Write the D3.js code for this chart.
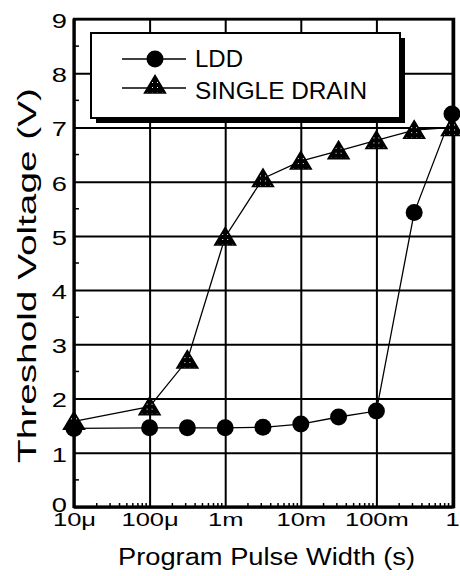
<!DOCTYPE html>
<html><head><meta charset="utf-8">
<script src="https://cdn.jsdelivr.net/npm/d3@7"></script>
<style>
html,body{margin:0;padding:0;background:#fff;}
svg{display:block;font-family:Arial,"Liberation Sans",Helvetica,sans-serif;}
</style></head>
<body>
<svg id="chart" width="460" height="576"></svg>
<script>
// ---- data ----
const pulseWidths = [1e-5, 1e-4, 3.16e-4, 1e-3, 3.16e-3, 1e-2, 3.16e-2, 1e-1, 3.16e-1, 1];
const lddVt = [1.45, 1.46, 1.46, 1.46, 1.47, 1.53, 1.66, 1.77, 5.43, 7.25];
const singleDrainVt = [1.58, 1.85, 2.71, 4.98, 6.06, 6.38, 6.57, 6.76, 6.95, 7.0];
const xTickValues = [1e-5, 1e-4, 1e-3, 1e-2, 1e-1, 1];
const xTickLabels = ["10μ", "100μ", "1m", "10m", "100m", "1"];
const yTickValues = [0, 1, 2, 3, 4, 5, 6, 7, 8, 9];
const seriesNames = ["LDD", "SINGLE DRAIN"];
const xTitle = "Program Pulse Width (s)";
const yTitle = "Threshold Voltage (V)";

const svg = d3.select("#chart");
const L = 74, R = 452, T = 19, B = 507;
const x = d3.scaleLog().domain([1e-5, 1]).range([L, R]);
const y = d3.scaleLinear().domain([0, 9]).range([B, T]);

// pattern for speckled triangles
const defs = svg.append("defs");
const pat = defs.append("pattern").attr("id", "speck").attr("patternUnits", "userSpaceOnUse")
  .attr("width", 5).attr("height", 5);
pat.append("rect").attr("width", 5).attr("height", 5).attr("fill", "#000");
pat.append("rect").attr("x", 2).attr("y", 2).attr("width", 1).attr("height", 1).attr("fill", "#fff");

// grid via axes
const yAxis = d3.axisLeft(y).tickValues(yTickValues).tickSize(-(R - L)).tickPadding(7).tickFormat(d3.format("d"));
const gy = svg.append("g").attr("transform", `translate(${L},0)`).call(yAxis);
gy.select(".domain").remove();
gy.selectAll(".tick line").attr("stroke", "#000").attr("stroke-width", 2);
gy.selectAll(".tick text")
  .attr("font-size", 21).attr("fill", "#000").attr("x", 0)
  .attr("dy", d => d === 0 ? "0.22em" : "0.40em")
  .attr("transform", "translate(-7,0) scale(1.3,1)");

const xAxis = d3.axisBottom(x).tickValues(xTickValues).tickSize(-(B - T))
  .tickFormat((d, i) => xTickLabels[i]);
const gx = svg.append("g").attr("transform", `translate(0,${B})`).call(xAxis);
gx.select(".domain").remove();
gx.selectAll(".tick line").attr("stroke", "#000").attr("stroke-width", 2);
gx.selectAll(".tick text")
  .attr("font-size", 18).attr("fill", "#000").attr("y", 0).attr("dy", 0)
  .attr("transform", "translate(0,19) scale(1.42,1)");

// minor ticks
const yMinor = d3.range(0.5, 9, 1);
svg.append("g").selectAll("line").data(yMinor).join("line")
  .attr("x1", L).attr("x2", L + 5).attr("y1", d => y(d)).attr("y2", d => y(d))
  .attr("stroke", "#000").attr("stroke-width", 1.5);
const xMinor = [];
for (let e = -5; e < 0; e++) for (let m = 2; m <= 9; m++) xMinor.push(m * Math.pow(10, e));
svg.append("g").selectAll("line").data(xMinor).join("line")
  .attr("x1", d => x(d)).attr("x2", d => x(d)).attr("y1", B).attr("y2", B - 4)
  .attr("stroke", "#000").attr("stroke-width", 1.5);

// frame
svg.append("rect").attr("x", L).attr("y", T).attr("width", R - L + 2).attr("height", B - T)
  .attr("fill", "none").attr("stroke", "#000").attr("stroke-width", 2.5);
svg.append("line").attr("x1", L).attr("x2", L).attr("y1", T).attr("y2", B + 1)
  .attr("stroke", "#000").attr("stroke-width", 3);
svg.append("line").attr("x1", L).attr("x2", R + 2).attr("y1", B).attr("y2", B)
  .attr("stroke", "#000").attr("stroke-width", 3);

// series
const ldd = pulseWidths.map((p, i) => [p, lddVt[i]]);
const sd = pulseWidths.map((p, i) => [p, singleDrainVt[i]]);
const line = d3.line().x(d => x(d[0])).y(d => y(d[1]));
svg.append("path").attr("d", line(sd)).attr("fill", "none").attr("stroke", "#000").attr("stroke-width", 1.3);
svg.append("path").attr("d", line(ldd)).attr("fill", "none").attr("stroke", "#000").attr("stroke-width", 1.3);

const triPath = "M0,-9.5L10.5,8L-10.5,8Z";
svg.append("g").selectAll("path").data(sd).join("path")
  .attr("d", triPath).attr("transform", d => `translate(${x(d[0])},${y(d[1])})`)
  .attr("fill", "url(#speck)").attr("stroke", "#000").attr("stroke-width", 1.5);
svg.append("g").selectAll("circle").data(ldd).join("circle")
  .attr("cx", d => x(d[0])).attr("cy", d => y(d[1])).attr("r", 8.5).attr("fill", "#000");

// legend
const lg = svg.append("g");
lg.append("rect").attr("x", 96).attr("y", 38).attr("width", 309).attr("height", 85).attr("fill", "#000");
lg.append("rect").attr("x", 91).attr("y", 33).attr("width", 309).attr("height", 85)
  .attr("fill", "#fff").attr("stroke", "#000").attr("stroke-width", 2);
const rows = [{ y: 59, tb: 67, len: 48 }, { y: 88, tb: 99, len: 172 }];
rows.forEach((r, i) => {
  lg.append("line").attr("x1", 122).attr("x2", 186).attr("y1", r.y).attr("y2", r.y)
    .attr("stroke", "#000").attr("stroke-width", 1.3);
  if (i === 0) lg.append("circle").attr("cx", 155).attr("cy", r.y).attr("r", 8.5).attr("fill", "#000");
  else lg.append("path").attr("d", triPath).attr("transform", `translate(155,${r.y - 3})`)
    .attr("fill", "url(#speck)").attr("stroke", "#000").attr("stroke-width", 1.5);
  lg.append("text").attr("x", 195).attr("y", r.tb).attr("font-size", 23)
    .attr("textLength", r.len).attr("lengthAdjust", "spacingAndGlyphs").text(seriesNames[i]);
});

// axis titles
svg.append("text").attr("x", 118).attr("y", 565).attr("font-size", 23)
  .attr("textLength", 297).attr("lengthAdjust", "spacingAndGlyphs").text(xTitle);
svg.append("text").attr("transform", "translate(36,463) rotate(-90)").attr("font-size", 26)
  .attr("textLength", 375).attr("lengthAdjust", "spacingAndGlyphs").text(yTitle);
</script>
</body></html>
